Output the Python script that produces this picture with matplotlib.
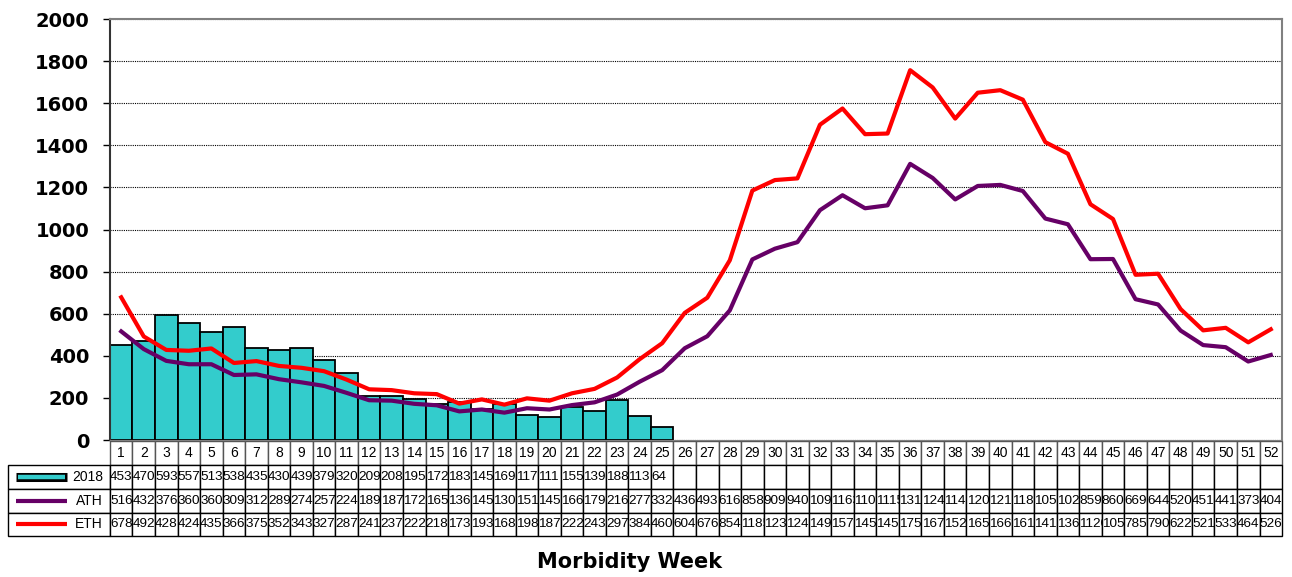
import numpy as np
import matplotlib
matplotlib.use("Agg")
import matplotlib.pyplot as plt
from matplotlib.lines import Line2D

plt.rcParams['font.family'] = ['Liberation Sans', 'DejaVu Sans']

# data
weeks = np.arange(1, 53)
cases_2018 = [453, 470, 593, 557, 513, 538, 435, 430, 439, 379, 320, 209, 208,
              195, 172, 183, 145, 169, 117, 111, 155, 139, 188, 113, 64]
ath = [516, 432, 376, 360, 360, 309, 312, 289, 274, 257, 224, 189, 187, 172,
       165, 136, 145, 130, 151, 145, 166, 179, 216, 277, 332, 436, 493, 616,
       858, 909, 940, 1092, 1163, 1101, 1115, 1312, 1245, 1143, 1207, 1212,
       1183, 1052, 1025, 859, 860, 669, 644, 520, 451, 441, 373, 404]
eth = [678, 492, 428, 424, 435, 366, 375, 352, 343, 327, 287, 241, 237, 222,
       218, 173, 193, 168, 198, 187, 222, 243, 297, 384, 460, 604, 676, 854,
       1185, 1235, 1243, 1498, 1575, 1453, 1456, 1757, 1675, 1527, 1650, 1662,
       1617, 1415, 1360, 1120, 1050, 785, 790, 622, 521, 533, 464, 526]
row_names = ['2018', 'ATH', 'ETH']

bar_color = '#33CCCC'
ath_color = '#660066'
eth_color = '#FF0000'

fig = plt.figure(figsize=(12.92, 5.77), dpi=100)
ax = fig.add_axes([0.0851, 0.2374, 0.9072, 0.7296])

ax.bar(weeks[:len(cases_2018)], cases_2018, width=1.0, color=bar_color,
       edgecolor='black', linewidth=1.3, zorder=2)
ax.plot(weeks, ath, color=ath_color, linewidth=3, zorder=3)
ax.plot(weeks, eth, color=eth_color, linewidth=3, zorder=4)

ax.set_xlim(0.5, 52.5)
ax.set_ylim(0, 2000)
ax.set_yticks(range(0, 2001, 200))
ax.set_xticks([])
ax.yaxis.grid(True, linestyle=(0, (1, 1)), color='black', linewidth=0.8)
ax.set_axisbelow(True)
for lab in ax.get_yticklabels():
    lab.set_fontweight('bold')
    lab.set_fontsize(14)
    lab.set_family('DejaVu Sans')
ax.tick_params(axis='y', length=5, width=1, pad=10)
ax.spines['left'].set_linewidth(1.5)
ax.spines['left'].set_color('#333333')
for s in ['top', 'right']:
    ax.spines[s].set_color('#808080')
    ax.spines[s].set_linewidth(1.5)
ax.spines['bottom'].set_color('#808080')

# data table under the plot
def fmt(vals):
    out = [str(v) for v in vals]
    return out + [''] * (52 - len(out))

cell_text = [fmt(cases_2018), fmt(ath), fmt(eth)]
col_w = 1.0 / 52
row_w = 0.087
tbl = ax.table(cellText=cell_text, rowLabels=row_names,
               colLabels=[str(w) for w in weeks], colWidths=[col_w] * 52,
               cellLoc='left', rowLoc='right',
               colLoc='center', bbox=[0, -0.229, 1, 0.227])
tbl._autoColumns = []
tbl.auto_set_font_size(False)
tbl.set_fontsize(9.7)
for (r, c), cell in tbl.get_celld().items():
    cell.set_linewidth(1.0)
    cell.set_edgecolor('black')
    cell.PAD = 0.005
    if r > 0 and c >= 0:
        cell.get_text().set_clip_path(cell)
    if r == 0:
        cell.set_edgecolor('#555555')
        cell.get_text().set_fontsize(10)
    if c == -1:
        cell.set_width(row_w)
        cell.PAD = 0.07
        cell.get_text().set_fontsize(10)

fig.canvas.draw()

# legend keys in the row label cells
keys = [dict(color='black', lw=6.5), dict(color=ath_color, lw=3), dict(color=eth_color, lw=3)]
for i, k in enumerate(keys):
    cell = tbl[i + 1, -1]
    x0 = cell.get_x() + cell.get_width() * 0.075
    x1 = cell.get_x() + cell.get_width() * 0.58
    y = cell.get_y() + cell.get_height() / 2
    ax.add_line(Line2D([x0, x1], [y, y], transform=ax.transAxes, clip_on=False,
                       solid_capstyle='butt', **k))
    if i == 0:
        ax.add_line(Line2D([x0 + 0.002, x1 - 0.002], [y, y], transform=ax.transAxes,
                           clip_on=False, color=bar_color, lw=3.2, solid_capstyle='butt'))

fig.text(0.4876, 0.026, 'Morbidity Week', ha='center', va='center',
         fontsize=15, fontweight='bold', family='DejaVu Sans')

fig.savefig('out.png', dpi=100)
